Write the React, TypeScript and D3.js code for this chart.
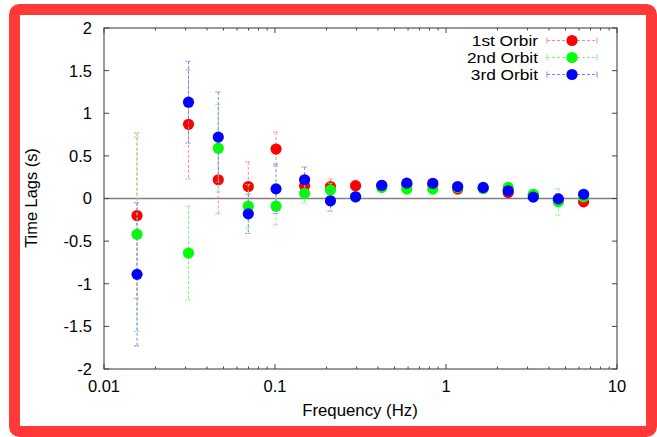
import React from "react";
import * as d3 from "d3";

const freqs = [0.0156, 0.0312, 0.0466, 0.0698, 0.1014, 0.149, 0.211, 0.296, 0.421, 0.59, 0.837, 1.17, 1.65, 2.31, 3.24, 4.54, 6.38];

const orbit1 = [-0.2, 0.87, 0.22, 0.14, 0.58, 0.15, 0.14, 0.15, 0.15, 0.16, 0.16, 0.11, 0.12, 0.07, 0.04, -0.02, -0.04];
const orbit1Err = [0.97, 0.64, 0.4, 0.29, 0.2, 0.1, 0.09, 0.05, 0.04, 0.04, 0.04, 0.03, 0.03, 0.03, 0.03, 0.05, 0.04];

const orbit2 = [-0.42, -0.64, 0.59, -0.09, -0.09, 0.06, 0.1, 0.02, 0.13, 0.11, 0.11, 0.13, 0.12, 0.13, 0.05, -0.04, 0.02];
const orbit2Err = [1.14, 0.55, 0.515, 0.255, 0.22, 0.11, 0.08, 0.05, 0.04, 0.04, 0.04, 0.03, 0.03, 0.04, 0.05, 0.155, 0.05];

const orbit3 = [-0.89, 1.13, 0.72, -0.18, 0.113, 0.22, -0.027, 0.02, 0.155, 0.18, 0.178, 0.14, 0.13, 0.09, 0.016, -0.004, 0.05];
const orbit3Err = [0.84, 0.48, 0.53, 0.23, 0.29, 0.15, 0.12, 0.05, 0.04, 0.04, 0.04, 0.03, 0.03, 0.03, 0.03, 0.06, 0.04];

const seriesNames = ["1st Orbir", "2nd Orbit", "3rd Orbit"];
const yTicks = [-2, -1.5, -1, -0.5, 0, 0.5, 1, 1.5, 2];
const xTickLabels = ["0.01", "0.1", "1", "10"];
const xTickValues = [0.01, 0.1, 1, 10];

const series = [
  { name: seriesNames[0], values: orbit1, errs: orbit1Err, color: "#ff0000", errColor: "#ff8c8c" },
  { name: seriesNames[1], values: orbit2, errs: orbit2Err, color: "#00ff00", errColor: "#7cf57c" },
  { name: seriesNames[2], values: orbit3, errs: orbit3Err, color: "#0000ff", errColor: "#8080ff" },
];

const W = 657;
const H = 437;
const L = 104, R = 617, T = 28, B = 369;
const FONT = "'Liberation Sans', Arial, Helvetica, sans-serif";
const TICK_FS = 16.5;
const LABEL_FS = 16.8;

export default function App() {
  const x = d3.scaleLog().domain([0.01, 10]).range([L, R]);
  const y = d3.scaleLinear().domain([-2, 2]).range([B, T]);

  const minorTicks: number[] = [];
  for (const dec of [0.01, 0.1, 1]) {
    for (let k = 2; k <= 9; k++) minorTicks.push(dec * k);
  }

  const r = 5.6;
  const cap = 3;
  const dash = "3,2";

  return (
    <svg width={W} height={H} style={{ position: "absolute", left: 0, top: 0, background: "#fff" }} fontFamily={FONT}>
      <rect x={0} y={0} width={W} height={H} fill="#fff" />
      {/* zero line */}
      <line x1={L} x2={R} y1={y(0)} y2={y(0)} stroke="#808080" strokeWidth={1.6} />
      {/* frame */}
      <rect x={L} y={T} width={R - L} height={B - T} fill="none" stroke="#555" strokeWidth={1.2} />
      {/* y ticks */}
      {yTicks.map((v) => (
        <g key={"y" + v}>
          <line x1={L} x2={L + 5} y1={y(v)} y2={y(v)} stroke="#444" strokeWidth={1} />
          <line x1={R} x2={R - 5} y1={y(v)} y2={y(v)} stroke="#444" strokeWidth={1} />
          <text x={92} y={y(v)} dy="0.36em" textAnchor="end" fontSize={TICK_FS} fill="#000">
            {String(v)}
          </text>
        </g>
      ))}
      {/* x ticks */}
      {xTickValues.map((v, i) => (
        <g key={"x" + v}>
          <line x1={x(v)} x2={x(v)} y1={B} y2={B - 5} stroke="#444" strokeWidth={1} />
          <line x1={x(v)} x2={x(v)} y1={T} y2={T + 5} stroke="#444" strokeWidth={1} />
          <text x={x(v)} y={392} textAnchor="middle" fontSize={TICK_FS} fill="#000">
            {xTickLabels[i]}
          </text>
        </g>
      ))}
      {minorTicks.map((v) => (
        <g key={"m" + v}>
          <line x1={x(v)} x2={x(v)} y1={B} y2={B - 2.5} stroke="#444" strokeWidth={1} />
          <line x1={x(v)} x2={x(v)} y1={T} y2={T + 2.5} stroke="#444" strokeWidth={1} />
        </g>
      ))}
      <text x={360} y={416} textAnchor="middle" fontSize={LABEL_FS} fill="#000">
        Frequency (Hz)
      </text>
      <text transform={`translate(37,198) rotate(-90)`} textAnchor="middle" fontSize={16.4} fill="#000">
        Time Lags (s)
      </text>
      {/* series */}
      {series.map((s, si) => (
        <g key={"s" + si}>
          {freqs.map((f, i) => {
            const cx = x(f);
            const y1 = y(s.values[i] + s.errs[i]);
            const y2 = y(s.values[i] - s.errs[i]);
            return (
              <g key={i} stroke={s.errColor} strokeWidth={1} strokeDasharray={dash}>
                <line x1={cx} x2={cx} y1={y1} y2={y2} />
                <line x1={cx - cap} x2={cx + cap} y1={y1} y2={y1} strokeDasharray="2,1" />
                <line x1={cx - cap} x2={cx + cap} y1={y2} y2={y2} strokeDasharray="2,1" />
              </g>
            );
          })}
          {freqs.map((f, i) => (
            <circle key={"c" + i} cx={x(f)} cy={y(s.values[i])} r={r} fill={s.color} />
          ))}
        </g>
      ))}
      {/* legend */}
      {series.map((s, si) => {
        const ly = 40.5 + si * 17;
        return (
          <g key={"l" + si}>
            <text transform={`translate(538,${ly}) scale(1.2,1)`} dy="0.36em" textAnchor="end" fontSize={14.4} fill="#000">
              {s.name}
            </text>
            <g stroke={s.errColor} strokeWidth={1}>
              <line x1={547} x2={597} y1={ly} y2={ly} strokeDasharray={dash} />
              <line x1={547} x2={547} y1={ly - cap} y2={ly + cap} />
              <line x1={597} x2={597} y1={ly - cap} y2={ly + cap} />
            </g>
            <circle cx={572} cy={ly} r={r} fill={s.color} />
          </g>
        );
      })}
      {/* red outer border */}
      <rect x={14.5} y={9.5} width={637} height={422} rx={5} ry={5} fill="none" stroke="#ff3838" strokeWidth={11} />
    </svg>
  );
}
